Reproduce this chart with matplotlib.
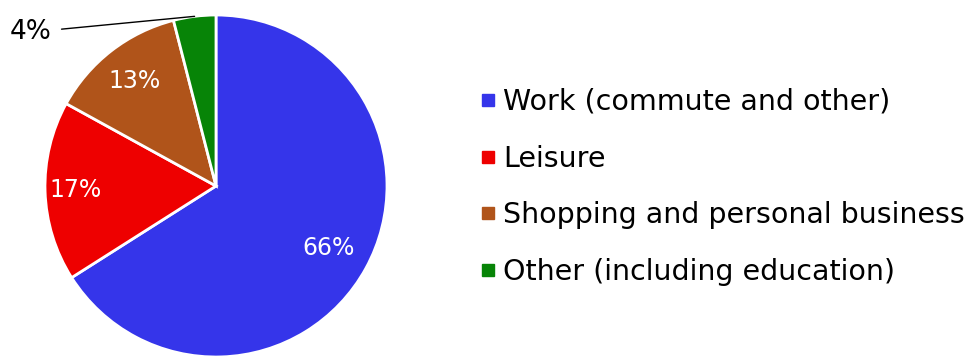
import numpy as np
import matplotlib.pyplot as plt
from matplotlib.lines import Line2D

# Trip purposes, share of trips (%)
purposes = ['Work (commute and other)', 'Leisure',
            'Shopping and personal business', 'Other (including education)']
shares = [66, 17, 13, 4]
colors = ['#3535EA', '#EE0000', '#B0541A', '#078407']

plt.rcParams['font.family'] = ['DejaVu Sans']

fig = plt.figure(figsize=(9.7, 3.59), dpi=100)
ax = fig.add_axes([45 / 970, 2 / 359, 342 / 970, 342 / 359])

wedges, _ = ax.pie(shares, colors=colors, startangle=90, counterclock=False,
                   wedgeprops=dict(edgecolor='white', linewidth=2))
ax.set_xlim(-1, 1)
ax.set_ylim(-1, 1)
ax.set_aspect('equal')

# percentage labels inside the bigger wedges
label_dist = [0.75, 0.82, 0.78]
for w, v, d in zip(wedges[:3], shares[:3], label_dist):
    mid = np.deg2rad((w.theta1 + w.theta2) / 2)
    ax.text(d * np.cos(mid), d * np.sin(mid), f'{v}%', color='white',
            fontsize=17, ha='center', va='center')

# small wedge gets a leader line
w = wedges[3]
mid = np.deg2rad((w.theta1 + w.theta2) / 2)
ax.annotate(f'{shares[3]}%', xy=(np.cos(mid), np.sin(mid)),
            xytext=(-0.96, 0.9), fontsize=19, ha='right', va='center',
            annotation_clip=False,
            arrowprops=dict(arrowstyle='-', color='black', lw=1,
                            shrinkA=5, shrinkB=0))

handles = [Line2D([], [], marker='s', linestyle='none', color=c,
                  markersize=8) for c in colors]
fig.legend(handles, purposes, loc='center left',
           bbox_to_anchor=(469 / 970, 172 / 359), frameon=False,
           fontsize=20.5, handlelength=0.55, handletextpad=0.25,
           labelspacing=1.01, borderaxespad=0)

fig.savefig('out.png', dpi=100)
